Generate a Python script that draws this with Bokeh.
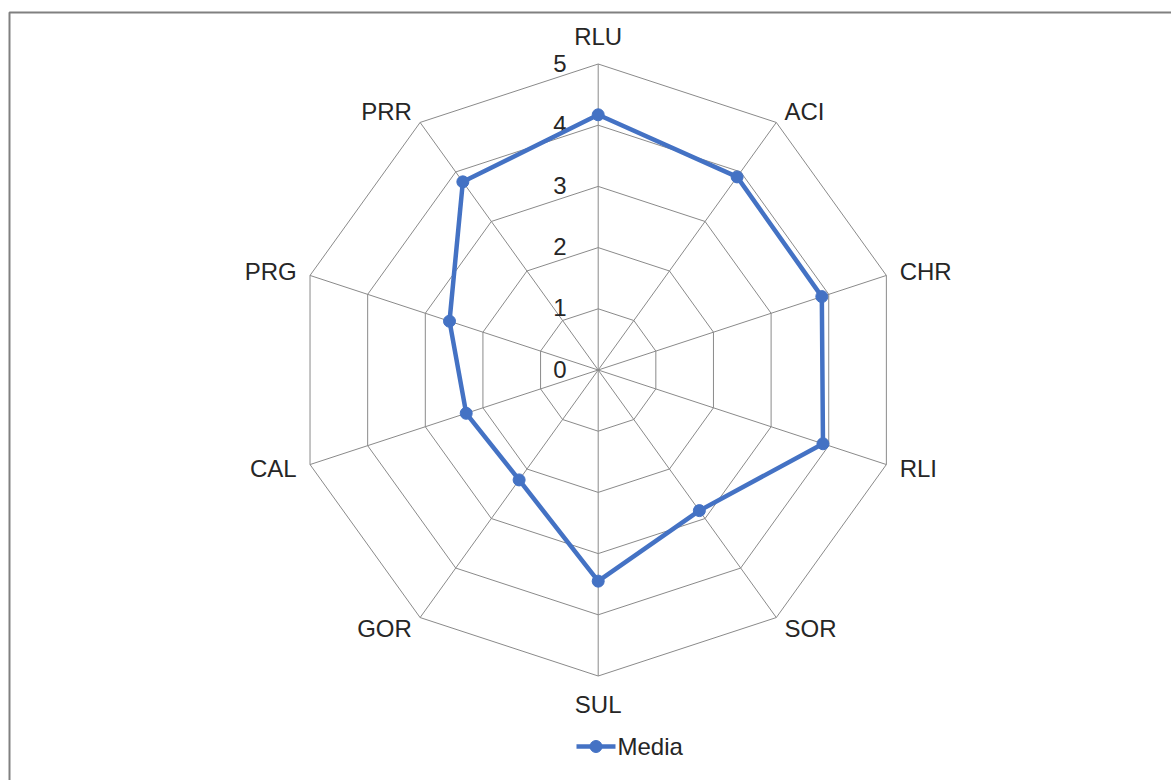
import math

from bokeh.plotting import figure
from bokeh.models import Range1d
from bokeh.core.properties import value
from bokeh.embed import file_html
from bokeh.resources import INLINE

# ---- data -------------------------------------------------------------
categories = ["RLU", "ACI", "CHR", "RLI", "SOR", "SUL", "GOR", "CAL", "PRG", "PRR"]
media = [4.17, 3.90, 3.88, 3.90, 2.84, 3.45, 2.22, 2.29, 2.58, 3.80]
tick_values = [0, 1, 2, 3, 4, 5]
tick_labels = ["0", "1", "2", "3", "4", "5"]
series_name = "Media"
r_max = 5

# ---- page geometry (pixels) -------------------------------------------
W, H = 1171, 780
cx_px, cy_px = 597.7, 369.5      # chart centre on the page
sx, sy = 60.6, 61.2              # pixels per value unit (x, y)

FONT = "Liberation Sans"
TEXT_COLOR = "#262626"
GRID_COLOR = "#8a8a8a"
SERIES_COLOR = "#4472C4"


def px_to_x(px):
    return (px - cx_px) / sx


def px_to_y(py):
    return (cy_px - py) / sy


p = figure(
    width=W, height=H,
    x_range=Range1d(px_to_x(0), px_to_x(W)),
    y_range=Range1d(px_to_y(H), px_to_y(0)),
    output_backend="svg", toolbar_location=None,
    min_border=0, background_fill_color="white", border_fill_color="white",
)
p.axis.visible = False
p.xgrid.visible = False
p.ygrid.visible = False
p.outline_line_color = None

n = len(categories)
angles = [2 * math.pi * i / n for i in range(n)]  # clockwise from top


def polar(r, a):
    return r * math.sin(a), r * math.cos(a)


# ---- outer frame ------------------------------------------------------
p.line([px_to_x(9), px_to_x(9), px_to_x(W + 5)],
       [px_to_y(H + 5), px_to_y(12), px_to_y(12)],
       line_color="#808080", line_width=2)

# ---- grid: decagon rings and spokes -----------------------------------
ring_xs, ring_ys = [], []
for t in tick_values[1:]:
    pts = [polar(t, a) for a in angles] + [polar(t, angles[0])]
    ring_xs.append([q[0] for q in pts])
    ring_ys.append([q[1] for q in pts])
p.multi_line(ring_xs, ring_ys, line_color=GRID_COLOR, line_width=1)

spoke_xs, spoke_ys = [], []
for a in angles:
    ex, ey = polar(r_max, a)
    spoke_xs.append([0, ex])
    spoke_ys.append([0, ey])
p.multi_line(spoke_xs, spoke_ys, line_color=GRID_COLOR, line_width=1)

# ---- radial tick labels -----------------------------------------------
tick_x = [px_to_x(566)] * len(tick_values)
tick_y = [t + 1 / sy for t in tick_values]
p.text(tick_x, tick_y, text=tick_labels, text_align="right",
       text_baseline="middle", text_font=value(FONT),
       text_font_size="24px", text_color=TEXT_COLOR)

# ---- category labels --------------------------------------------------
lab_x, lab_y, lab_align = [], [], []
for a in angles:
    s, c = math.sin(a), math.cos(a)
    d = 28 if abs(s) < 0.1 else 14
    vx, vy = polar(r_max, a)
    lab_x.append(vx + d * s / sx)
    lab_y.append(vy + d * c / sy)
    lab_align.append("center" if abs(s) < 0.1 else ("left" if s > 0 else "right"))

for lx, ly, txt, al in zip(lab_x, lab_y, categories, lab_align):
    p.text([lx], [ly], text=[txt], text_align=al, text_baseline="middle",
           text_font=value(FONT), text_font_size="24px", text_color=TEXT_COLOR)

# ---- series -----------------------------------------------------------
pts = [polar(v, a) for v, a in zip(media, angles)]
xs = [q[0] for q in pts]
ys = [q[1] for q in pts]
p.line(xs + [xs[0]], ys + [ys[0]], line_color=SERIES_COLOR, line_width=4.5,
       line_join="round")
p.scatter(xs, ys, size=12, marker="circle", fill_color=SERIES_COLOR,
          line_color=SERIES_COLOR)

# ---- legend -----------------------------------------------------------
leg_y = px_to_y(746)
p.line([px_to_x(576), px_to_x(615)], [leg_y, leg_y],
       line_color=SERIES_COLOR, line_width=4.5)
p.scatter([px_to_x(595.5)], [leg_y], size=12, marker="circle",
          fill_color=SERIES_COLOR, line_color=SERIES_COLOR)
p.text([px_to_x(617)], [leg_y], text=[series_name], text_align="left",
       text_baseline="middle", text_font=value(FONT), text_font_size="24px",
       text_color=TEXT_COLOR)

open("out.html", "w").write(file_html(p, INLINE))
